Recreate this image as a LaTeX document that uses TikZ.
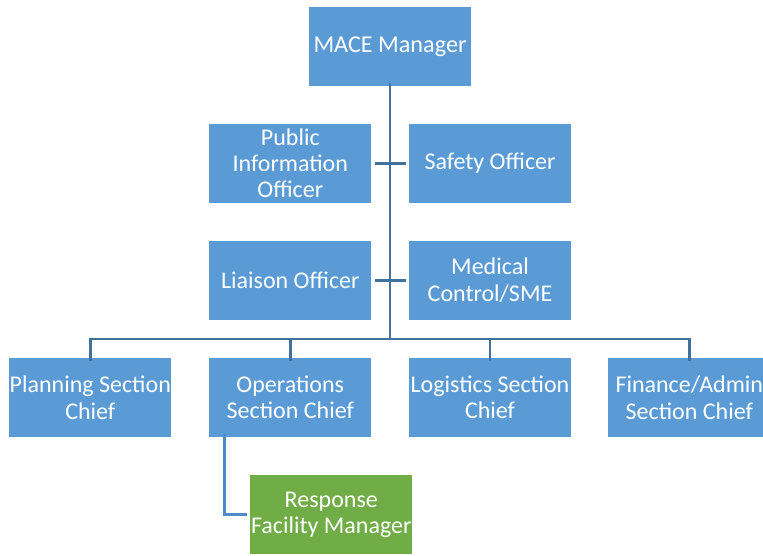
\documentclass[tikz,border=0pt]{standalone}
\usepackage{fontspec}
\setmainfont{Carlito}
\usetikzlibrary{calc}
\definecolor{boxblue}{HTML}{5B9BD5}
\definecolor{boxgreen}{HTML}{70AD47}
\definecolor{linedark}{HTML}{41719C}
\definecolor{linelight}{HTML}{4F8BC6}
\begin{document}
\begin{tikzpicture}[x=1pt,y=-1pt,
  orgbox/.style={fill=boxblue,draw=none,minimum width=162pt,minimum height=79pt,inner sep=0pt,
    text=white,align=center,font=\fontsize{24}{26.3}\selectfont},
  greenbox/.style={orgbox,fill=boxgreen},
  conn/.style={draw=linedark,line width=2.7pt},
  connlight/.style={draw=linelight,line width=2.7pt}]
\useasboundingbox (0,0) rectangle (763,555);
\clip (0,0) rectangle (763,555);
\node[orgbox,font=\fontsize{24.2}{28}\selectfont] (mace) at (390,46.3) {MACE Manager};
\node[orgbox] (pio) at (290.3,163.3) {Public\\Information\\Officer};
\node[orgbox] (safety) at (490,163.3) {Safety Officer};
\node[orgbox] (liaison) at (290.3,280.3) {Liaison Officer};
\node[orgbox] (medical) at (490,280.3) {Medical\\Control/SME};
\node[orgbox] (planning) at (90.3,397.6) {Planning Section\\Chief};
\node[orgbox] (ops) at (290.3,397.6) {Operations\\Section Chief};
\node[orgbox] (logistics) at (490,397.6) {Logistics Section\\Chief};
\node[orgbox] (finance) at (689.3,397.6) {Finance/Admin\\Section Chief};
\node[greenbox] (rfm) at (331.3,514.8) {Response\\Facility Manager};
\coordinate (bar) at (390,339);
% main trunk
\draw[conn] ([yshift=3pt]mace.south) -- (bar);
\draw[conn] ([xshift=3pt]pio.east) -- ([xshift=-3pt]safety.west);
\draw[conn] ([xshift=3pt]liaison.east) -- ([xshift=-3pt]medical.west);
% horizontal bar with drops
\draw[conn] ([yshift=-3pt]planning.north) |- (bar) -| ([yshift=-3pt]finance.north);
\draw[conn] ([yshift=-3pt]ops.north) -- (ops.north |- bar);
\draw[conn] ([yshift=-3pt]logistics.north) -- (logistics.north |- bar);
% operations to response facility
\draw[connlight] ([xshift=-66pt,yshift=3pt]ops.south) |- ([xshift=-3pt]rfm.west);
\end{tikzpicture}
\end{document}
